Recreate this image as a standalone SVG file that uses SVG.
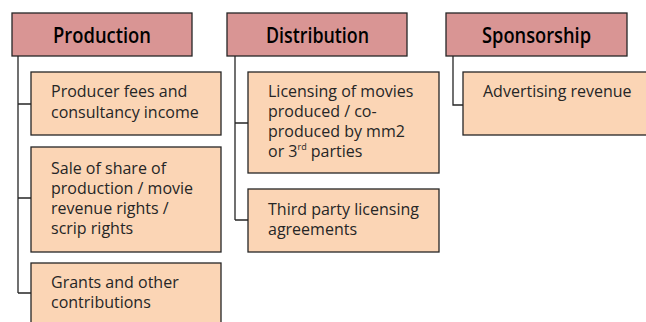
<svg xmlns="http://www.w3.org/2000/svg" width="646" height="322" viewBox="0 0 646 322">
<style>
.hdr{fill:#d99594;stroke:#262626;stroke-width:1.3}
.box{fill:#fbd5b5;stroke:#262626;stroke-width:1.3}
.ht{font-family:"Open Sans","Noto Sans",sans-serif;font-size:21px;font-weight:600;fill:#000;text-anchor:middle}
.bt{font-family:"Open Sans","Noto Sans",sans-serif;font-size:16px;fill:#262626}
.ln{fill:none;stroke:#262626;stroke-width:1.3}
</style>
<rect width="646" height="322" fill="#fff"/>
<g id="connectors">
<path class="ln" d="M18,56 V293 M18,104 H31 M18,198 H31 M18,293 H31"/>
<path class="ln" d="M235,56 V220 M235,123 H248 M235,220 H248"/>
<path class="ln" d="M453,56 V105 H463"/>
</g>
<g id="production">
<rect class="hdr" x="12" y="13" width="180" height="43"/>
<text class="ht" x="102" y="43" textLength="98" lengthAdjust="spacingAndGlyphs">Production</text>
</g>
<g id="distribution">
<rect class="hdr" x="227" y="13" width="180" height="43"/>
<text class="ht" x="317.5" y="43" textLength="103" lengthAdjust="spacingAndGlyphs">Distribution</text>
</g>
<g id="sponsorship">
<rect class="hdr" x="446" y="13" width="181" height="43"/>
<text class="ht" x="536.5" y="43" textLength="109" lengthAdjust="spacingAndGlyphs">Sponsorship</text>
</g>
<g id="producer-fees">
<rect class="box" x="31" y="72" width="190" height="63"/>
<text class="bt" x="51" y="97">Producer fees and</text>
<text class="bt" x="51" y="118">consultancy income</text>
</g>
<g id="sale-of-share">
<rect class="box" x="31" y="147" width="190" height="105"/>
<text class="bt" x="51" y="174">Sale of share of</text>
<text class="bt" x="51" y="194">production / movie</text>
<text class="bt" x="51" y="214">revenue rights /</text>
<text class="bt" x="51" y="234">scrip rights</text>
</g>
<g id="grants">
<rect class="box" x="31" y="263" width="190" height="70"/>
<text class="bt" x="51" y="288">Grants and other</text>
<text class="bt" x="51" y="308">contributions</text>
</g>
<g id="licensing-movies">
<rect class="box" x="248" y="72" width="191" height="101"/>
<text class="bt" x="268" y="97">Licensing of movies</text>
<text class="bt" x="268" y="117">produced / co-</text>
<text class="bt" x="268" y="137">produced by mm2</text>
<text class="bt" x="268" y="157">or 3<tspan font-size="9" baseline-shift="7">rd</tspan> parties</text>
</g>
<g id="third-party">
<rect class="box" x="248" y="189" width="191" height="63"/>
<text class="bt" x="268" y="215">Third party licensing</text>
<text class="bt" x="268" y="235">agreements</text>
</g>
<g id="advertising">
<rect class="box" x="463" y="72" width="200" height="63"/>
<text class="bt" x="483" y="97">Advertising revenue</text>
</g>
</svg>
